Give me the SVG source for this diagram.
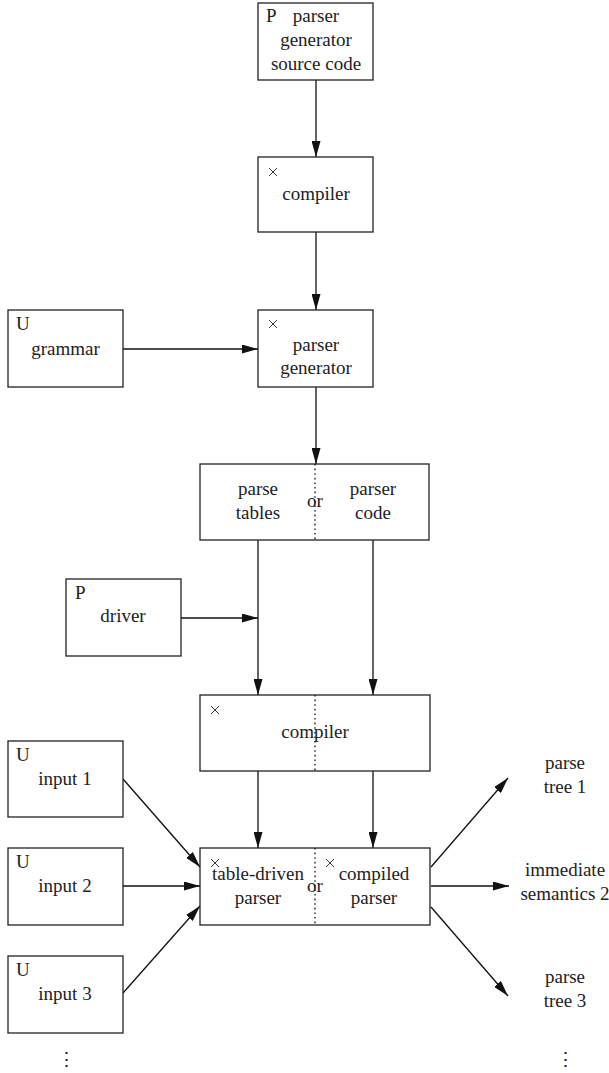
<svg xmlns="http://www.w3.org/2000/svg" width="609" height="1073" viewBox="0 0 609 1073" font-family="'Liberation Serif', 'Times New Roman', 'DejaVu Serif', serif">
<style>
.box{fill:#fff;stroke:#222;stroke-width:1.3}
.t{font-family:'Liberation Serif','Times New Roman','DejaVu Serif',serif;font-size:19px;fill:#222}
.m{text-anchor:middle}
.x{stroke:#222;stroke-width:0.9}
.c{stroke:#111;stroke-width:1.3;fill:none}
.dot{stroke:#111;stroke-width:1.3;stroke-dasharray:1.6,3}
</style>
<defs>
<marker id="ah" viewBox="0 0 16 9" refX="16" refY="4.5" markerWidth="16" markerHeight="9" markerUnits="userSpaceOnUse" orient="auto">
<path d="M0,0 L16,4.5 L0,9 z" fill="#111"/>
</marker>
<g id="xm"><line class="x" x1="0" y1="0" x2="8" y2="8"/><line class="x" x1="8" y1="0" x2="0" y2="8"/></g>
</defs>
<g id="connectors">
<line class="c" x1="316" y1="80" x2="316" y2="157" marker-end="url(#ah)"/>
<line class="c" x1="316" y1="232" x2="316" y2="310" marker-end="url(#ah)"/>
<line class="c" x1="123" y1="349" x2="258" y2="349" marker-end="url(#ah)"/>
<line class="c" x1="316" y1="387" x2="316" y2="464" marker-end="url(#ah)"/>
<line class="c" x1="181" y1="618" x2="258" y2="618" marker-end="url(#ah)"/>
<line class="c" x1="258" y1="540" x2="258" y2="695" marker-end="url(#ah)"/>
<line class="c" x1="373" y1="540" x2="373" y2="695" marker-end="url(#ah)"/>
<line class="c" x1="258" y1="771" x2="258" y2="848" marker-end="url(#ah)"/>
<line class="c" x1="373" y1="771" x2="373" y2="848" marker-end="url(#ah)"/>
<line class="c" x1="123" y1="779" x2="200" y2="867" marker-end="url(#ah)"/>
<line class="c" x1="123" y1="886" x2="200" y2="886" marker-end="url(#ah)"/>
<line class="c" x1="123" y1="993" x2="200" y2="906" marker-end="url(#ah)"/>
<line class="c" x1="431" y1="867" x2="508" y2="778" marker-end="url(#ah)"/>
<line class="c" x1="431" y1="886" x2="509" y2="886" marker-end="url(#ah)"/>
<line class="c" x1="431" y1="907" x2="508" y2="996" marker-end="url(#ah)"/>
</g>
<g id="pg-source">
<rect class="box" x="258" y="3" width="115" height="77"/>
<text class="t" x="266" y="22">P</text>
<text class="t m" x="316" y="22">parser</text>
<text class="t m" x="316" y="46">generator</text>
<text class="t m" x="316" y="70">source code</text>
</g>
<g id="compiler1">
<rect class="box" x="258" y="157" width="115" height="75"/>
<use href="#xm" x="269" y="168"/>
<text class="t m" x="316" y="200">compiler</text>
</g>
<g id="grammar">
<rect class="box" x="8" y="310" width="115" height="77"/>
<text class="t" x="16" y="330">U</text>
<text class="t m" x="65.5" y="355">grammar</text>
</g>
<g id="parser-generator">
<rect class="box" x="258" y="310" width="115" height="77"/>
<use href="#xm" x="269" y="320"/>
<text class="t m" x="316" y="351">parser</text>
<text class="t m" x="316" y="374">generator</text>
</g>
<g id="tables-code">
<rect class="box" x="200" y="464" width="229" height="76"/>
<line class="dot" x1="315" y1="464" x2="315" y2="540"/>
<text class="t m" x="258" y="495">parse</text>
<text class="t m" x="258" y="519">tables</text>
<text class="t m" x="315" y="507">or</text>
<text class="t m" x="373" y="495">parser</text>
<text class="t m" x="373" y="519">code</text>
</g>
<g id="driver">
<rect class="box" x="66" y="579" width="115" height="77"/>
<text class="t" x="75" y="599">P</text>
<text class="t m" x="123" y="622">driver</text>
</g>
<g id="compiler2">
<rect class="box" x="200" y="695" width="230" height="76"/>
<line class="dot" x1="315" y1="695" x2="315" y2="771"/>
<use href="#xm" x="211" y="706"/>
<text class="t m" x="315" y="738">compiler</text>
</g>
<g id="input1">
<rect class="box" x="8" y="741" width="115" height="76"/>
<text class="t" x="16" y="761">U</text>
<text class="t m" x="65" y="785">input 1</text>
</g>
<g id="input2">
<rect class="box" x="8" y="848" width="115" height="77"/>
<text class="t" x="16" y="868">U</text>
<text class="t m" x="65" y="892">input 2</text>
</g>
<g id="input3">
<rect class="box" x="8" y="956" width="115" height="77"/>
<text class="t" x="16" y="976">U</text>
<text class="t m" x="65" y="1000">input 3</text>
</g>
<g id="parser">
<rect class="box" x="200" y="848" width="230" height="77"/>
<line class="dot" x1="315" y1="848" x2="315" y2="925"/>
<use href="#xm" x="211" y="859"/>
<use href="#xm" x="326" y="859"/>
<text class="t m" x="258" y="880">table-driven</text>
<text class="t m" x="258" y="904">parser</text>
<text class="t m" x="315" y="892">or</text>
<text class="t m" x="374" y="880">compiled</text>
<text class="t m" x="374" y="904">parser</text>
</g>
<g id="out1">
<text class="t m" x="565" y="769">parse</text>
<text class="t m" x="565" y="793">tree 1</text>
</g>
<g id="out2">
<text class="t m" x="565" y="876">immediate</text>
<text class="t m" x="565" y="900">semantics 2</text>
</g>
<g id="out3">
<text class="t m" x="565" y="983">parse</text>
<text class="t m" x="565" y="1007">tree 3</text>
</g>
<g id="more-inputs"><text class="t m" x="66" y="1066" style="font-family:'DejaVu Serif',serif">⋮</text></g>
<g id="more-outputs"><text class="t m" x="565" y="1066" style="font-family:'DejaVu Serif',serif">⋮</text></g>
</svg>
